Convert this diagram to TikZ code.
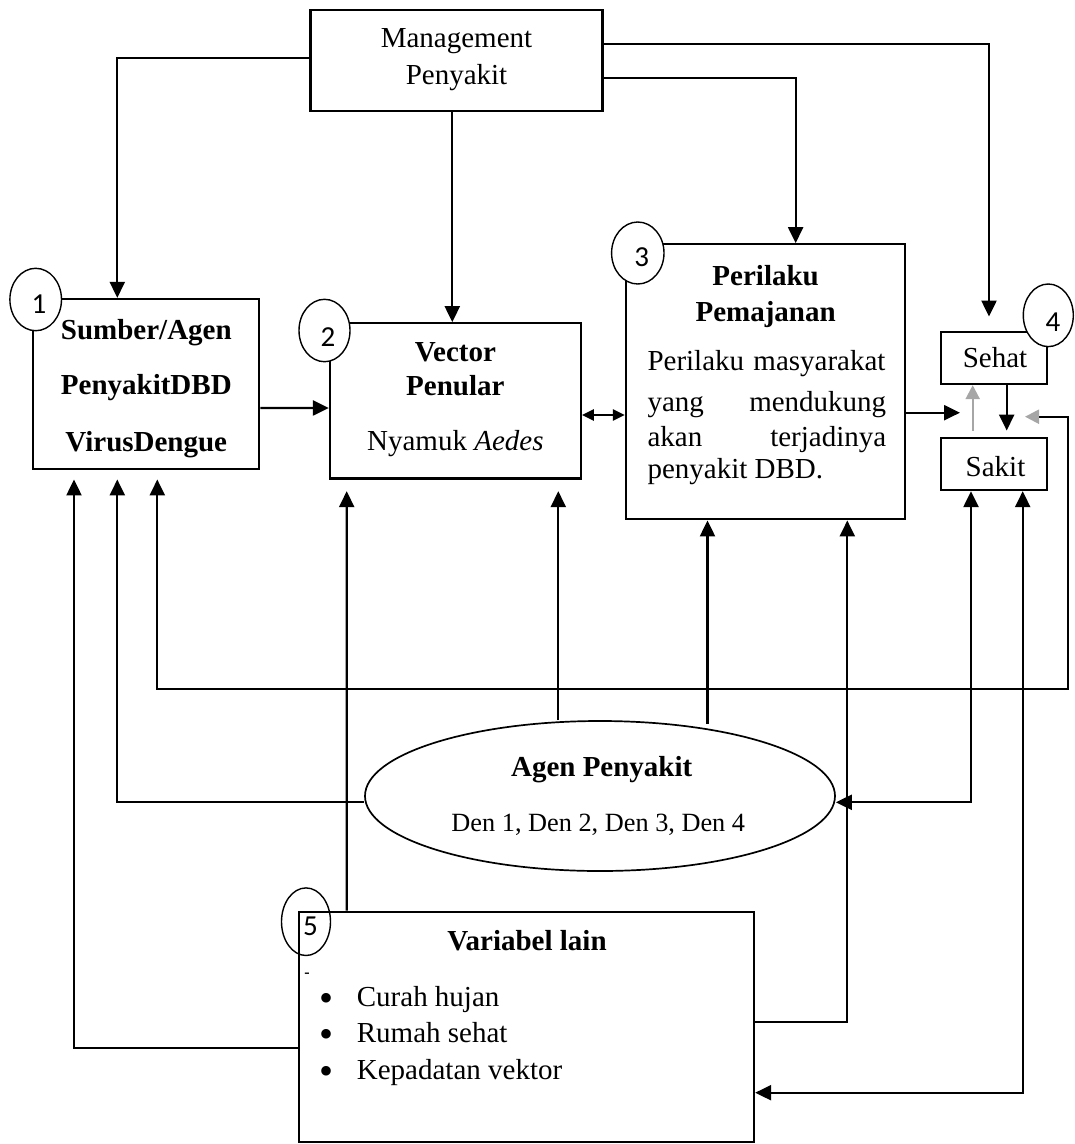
\documentclass[tikz,border=0pt]{standalone}
\usepackage{fontspec}
\setmainfont{Liberation Serif}
\newfontfamily\dgnumfont{Carlito}
\usetikzlibrary{arrows.meta,shapes.geometric}
\newcommand\dgReg{\fontsize{29pt}{34pt}\selectfont}
\newcommand\dgBold{\fontsize{29pt}{34pt}\selectfont\bfseries}
\newcommand\dgSmall{\fontsize{26.3pt}{31pt}\selectfont}
\newcommand\dgNum{\fontsize{29pt}{34pt}\selectfont\dgnumfont}
\newcommand\dgItem[1]{\hbox to 37pt{\raisebox{-5pt}[0pt][0pt]{\fontsize{40pt}{40pt}\selectfont\textbullet}\hfil}#1}
\begin{document}
\begin{tikzpicture}[x=1pt,y=-1pt,
  box/.style={draw, line width=2.3pt, rectangle, inner sep=0pt},
  numcirc/.style={draw, line width=1.4pt, ellipse, fill=white, inner sep=0pt},
  numtext/.style={inner sep=0pt, anchor=center, font=\dgNum},
  rt/.style={inner sep=0pt, anchor=base, font=\dgReg},
  bt/.style={inner sep=0pt, anchor=base, font=\dgBold},
  lt/.style={inner sep=0pt, anchor=base west, font=\dgReg},
  arr/.style={line width=2.3pt, -{Triangle[length=16pt,width=15pt]}},
  darr/.style={line width=2.3pt, {Triangle[length=16pt,width=15pt]}-{Triangle[length=16pt,width=15pt]}},
]
\useasboundingbox (0,0) rectangle (1075,1144);

% boxes
\node[box, minimum width=291.8pt, minimum height=100.7pt] (mgmt) at (456.5,60.65) {};
\node[box, minimum width=226pt, minimum height=170.3pt] (b1) at (146.3,384.15) {};
\node[box, minimum width=250.7pt, minimum height=155.2pt] (b2) at (455.35,400.9) {};
\node[box, minimum width=279.3pt, minimum height=275pt] (b3) at (765.65,381.8) {};
\node[box, minimum width=106.3pt, minimum height=52.3pt] (sehat) at (994.15,357.85) {};
\node[box, minimum width=106.3pt, minimum height=52.3pt] (sakit) at (994.15,463.85) {};
\node[draw, line width=1.7pt, ellipse, inner sep=0pt, minimum width=470pt, minimum height=150pt] (ell) at (600,796) {};
\node[box, minimum width=455pt, minimum height=230.3pt] (b5) at (526.5,1026.85) {};

% number circles
\node[numcirc, minimum width=51.6pt, minimum height=62.4pt] (c1) at (35.7,299.5) {};
\node[numcirc, minimum width=51pt, minimum height=62.4pt] (c2) at (324.5,330.5) {};
\node[numcirc, minimum width=52.4pt, minimum height=62pt] (c3) at (637.8,253) {};
\node[numcirc, minimum width=50pt, minimum height=62.6pt] (c4) at (1048.3,315.3) {};
\node[draw, line width=1.4pt, ellipse, inner sep=0pt, minimum width=49pt, minimum height=67.6pt] (c5) at (306,921.7) {};
\node[numtext] (n1) at (39,304.5) {1};
\node[numtext] (n2) at (328,337) {2};
\node[numtext] (n3) at (641.7,257.5) {3};
\node[numtext] (n4) at (1053,321.7) {4};
\node[numtext] (n5) at (310.5,926) {5};

% texts
\node[rt] (tm1) at (456.5,47.5) {Management};
\node[rt] (tm2) at (456.5,84.4) {Penyakit};

\node[bt] (t11) at (146.3,339) {Sumber/Agen};
\node[bt] (t12) at (146.3,394) {PenyakitDBD};
\node[bt] (t13) at (146.3,451.7) {VirusDengue};

\node[bt] (t21) at (455.35,361.7) {Vector};
\node[bt] (t22) at (455.35,395) {Penular};
\node[rt] (t23) at (455.35,450.7) {Nyamuk \textit{Aedes}};

\node[bt] (t31) at (765.65,285) {Perilaku};
\node[bt] (t32) at (765.65,321.7) {Pemajanan};
\node[lt] (t33) at (647.3,370) {\hbox to 238pt{Perilaku\hfill masyarakat}};
\node[lt] (t34) at (647.3,411.7) {\hbox to 238.7pt{yang\hfill mendukung}};
\node[lt] (t35) at (647.3,446.7) {\hbox to 238.7pt{akan\hfill terjadinya}};
\node[lt] (t36) at (647.3,478.3) {penyakit DBD.};

\node[rt] (t41) at (995,367.3) {Sehat};
\node[rt] (t42) at (995.5,476) {Sakit};

\node[bt] (te1) at (601.7,776.7) {Agen Penyakit};
\node[rt, font=\dgSmall] (te2) at (598.3,831.7) {Den 1, Den 2, Den 3, Den 4};

\node[bt] (t51) at (527,950) {Variabel lain};
\node[inner sep=0pt, font=\fontsize{16pt}{18pt}\selectfont\bfseries] (tdash) at (307,975) {-};
\node[lt] (t52) at (319.7,1006.7) {\dgItem{Curah hujan}};
\node[lt] (t53) at (319.7,1042.7) {\dgItem{Rumah sehat}};
\node[lt] (t54) at (319.7,1079.3) {\dgItem{Kepadatan vektor}};

% free end coordinates
\coordinate (p4in) at (960,412.7);
\coordinate (p4side) at (1025,416.7);

% connectors from management
\draw[arr] ([yshift=2.75pt]mgmt.west) -| ([xshift=-29pt]b1.north);
\draw[arr] ([xshift=-4.2pt]mgmt.south) -- ([xshift=-3.05pt]b2.north);
\draw[arr, shorten >=14pt] ([yshift=16.95pt]mgmt.east) -| ([xshift=-5.15pt]sehat.north);
\draw[arr] ([yshift=-17.15pt]mgmt.east) -| ([xshift=30pt]b3.north);

% horizontal relations
\draw[arr] ([yshift=-23.8pt]b1.east) -- ([yshift=-7.1pt]b2.west);
\draw[line width=2.3pt, {Triangle[length=12pt,width=11pt]}-{Triangle[length=12pt,width=11pt]}] ([yshift=-14.1pt]b2.east) -- ([yshift=-33.2pt]b3.west);
\draw[arr] ([yshift=-30.9pt]b3.east) -- (p4in);

% sehat / sakit
\draw[line width=2.3pt, gray!70, -{Triangle[length=14pt,width=14pt]}, shorten <=6pt] ([xshift=-21.45pt]sakit.north) -- ([xshift=-21.45pt]sehat.south);
\draw[arr, shorten >=6pt] ([xshift=12.55pt]sehat.south) -- ([xshift=12.55pt]sakit.north);

% long loop to source box
\draw[line width=2.3pt, {Triangle[length=14pt,width=14pt,color=gray!70]}-{Triangle[length=16pt,width=15pt]}, shorten >=9pt]
  (p4side) -- ++(43.3,0) -- ++(0,272.6) -| ([xshift=11pt]b1.south);

% agent ellipse connectors
\draw[arr, shorten >=9pt] ([yshift=-6.3pt]ell.west) -| ([xshift=-29pt]b1.south);
\draw[arr, shorten >=11.5pt] ([xshift=-41.7pt]ell.north) -- ([xshift=102.95pt]b2.south);
\draw[arr] ([xshift=107.5pt,yshift=-4pt]ell.north) -- ([xshift=-58.15pt]b3.south);
\draw[darr] ([xshift=-23.15pt]sakit.south) |- ([yshift=-6.3pt]ell.east);

% other variables box connectors
\draw[arr, shorten >=9pt] ([yshift=-20.85pt]b5.west) -| ([xshift=-72.3pt]b1.south);
\draw[arr, shorten >=11.5pt] ([xshift=-179.8pt]b5.north) -- ([xshift=-108.65pt]b2.south);
\draw[arr] ([yshift=4.55pt]b5.east) -| ([xshift=81.65pt]b3.south);
\draw[darr] ([xshift=28.55pt]sakit.south) |- ([yshift=-65.85pt]b5.east);

\end{tikzpicture}
\end{document}
